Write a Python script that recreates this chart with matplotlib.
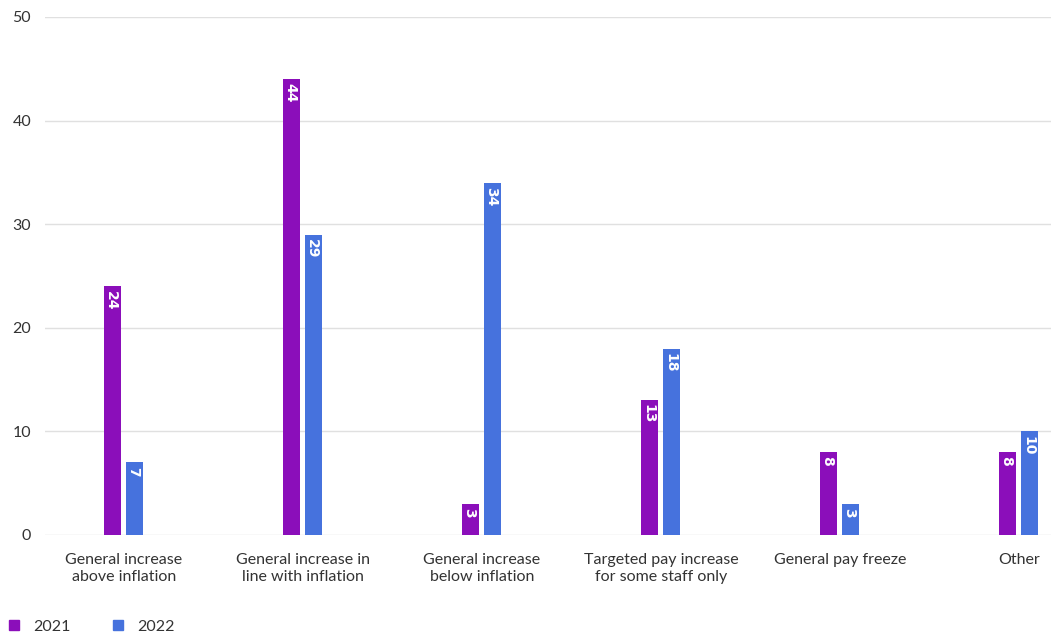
import numpy as np
import matplotlib.pyplot as plt
from matplotlib.lines import Line2D

plt.rcParams['font.family'] = ['Lato', 'DejaVu Sans']

categories = ['General increase\nabove inflation', 'General increase in\nline with inflation',
              'General increase\nbelow inflation', 'Targeted pay increase\nfor some staff only',
              'General pay freeze', 'Other']
years = ['2021', '2022']
vals_2021 = [24, 44, 3, 13, 8, 8]
vals_2022 = [7, 29, 34, 18, 3, 10]
yticks = [0, 10, 20, 30, 40, 50]

colors = ['#8B0EBA', '#4672DD']

fig = plt.figure(figsize=(10.51, 6.34), dpi=100)
ax = fig.add_axes([45 / 1051, 99 / 634, 1 - 45 / 1051, (535 - 17) / 634])

x = np.arange(len(categories))
w = 0.095
off = 0.0615
for vals, c, d in [(vals_2021, colors[0], -off), (vals_2022, colors[1], off)]:
    bars = ax.bar(x + d, vals, width=w, color=c, zorder=3)
    for b, v in zip(bars, vals):
        # value written downwards inside the top of each bar
        ax.annotate(str(v), (b.get_x() + b.get_width() / 2, v), xytext=(-1.3, -3),
                    textcoords='offset points', ha='center', va='top', rotation=-90,
                    color='white', fontsize=10, fontweight='bold', family='DejaVu Sans',
                    zorder=4)

ax.set_xlim(-0.441, 5.179)
ax.set_ylim(0, 50)
ax.set_yticks(yticks)
ax.set_xticks(x)
ax.set_xticklabels(categories, fontsize=11.5, color='#333333', linespacing=1.25)
ax.tick_params(axis='y', labelsize=11.5, labelcolor='#333333', length=0, pad=10)
ax.tick_params(axis='x', length=0, pad=13)
ax.grid(axis='y', color='#e0e0e0', linewidth=1, zorder=0)
for s in ax.spines.values():
    s.set_visible(False)

handles = [Line2D([], [], marker='s', linestyle='', markersize=7, color=c) for c in colors]
fig.legend(handles, years, loc='lower left', bbox_to_anchor=(-0.008, -0.022), ncol=2,
           frameon=False, fontsize=11.5, handletextpad=0.7, columnspacing=2.5,
           labelcolor='#333333', handlelength=1.0)

fig.savefig('out.png', dpi=100)
